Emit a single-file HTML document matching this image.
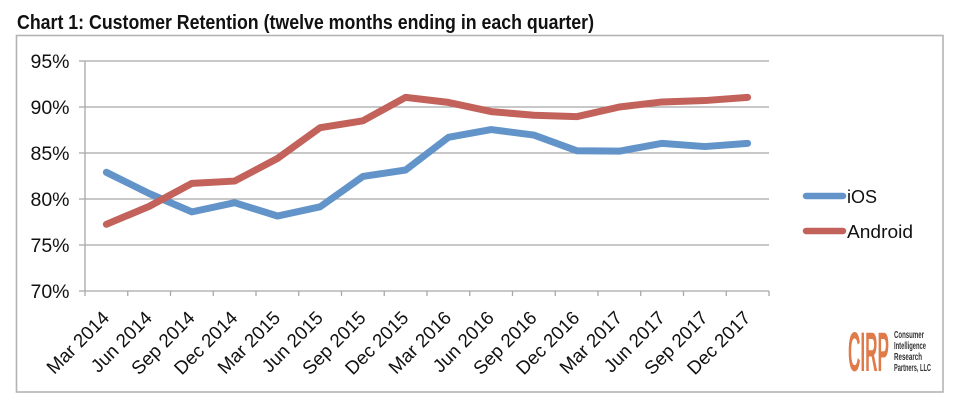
<!DOCTYPE html>
<html>
<head>
<meta charset="utf-8">
<style>
html,body{margin:0;padding:0;background:#fff;}
svg{display:block;}
text{font-family:"Liberation Sans",Arial,sans-serif;}
</style>
</head>
<body>
<svg width="960" height="407" viewBox="0 0 960 407" xmlns="http://www.w3.org/2000/svg">
<rect x="0" y="0" width="960" height="407" fill="#fff"/>
<!-- title -->
<text x="17" y="29" font-size="20" font-weight="bold" fill="#111" textLength="577" lengthAdjust="spacingAndGlyphs">Chart 1: Customer Retention (twelve months ending in each quarter)</text>
<!-- frame -->
<rect x="16.5" y="35.5" width="926.5" height="356.5" fill="none" stroke="#b4b4b4" stroke-width="1.6"/>
<!-- gridlines -->
<g stroke="#a8a8a8" stroke-width="1.3">
<line x1="79" y1="61" x2="769" y2="61"/>
<line x1="79" y1="107" x2="769" y2="107"/>
<line x1="79" y1="153" x2="769" y2="153"/>
<line x1="79" y1="199" x2="769" y2="199"/>
<line x1="79" y1="245" x2="769" y2="245"/>
<line x1="79" y1="291" x2="769" y2="291"/>
<line x1="85" y1="61" x2="85" y2="291"/>
<line x1="85" y1="291" x2="85" y2="296"/>
<line x1="127.75" y1="291" x2="127.75" y2="296"/>
<line x1="170.5" y1="291" x2="170.5" y2="296"/>
<line x1="213.25" y1="291" x2="213.25" y2="296"/>
<line x1="256" y1="291" x2="256" y2="296"/>
<line x1="298.75" y1="291" x2="298.75" y2="296"/>
<line x1="341.5" y1="291" x2="341.5" y2="296"/>
<line x1="384.25" y1="291" x2="384.25" y2="296"/>
<line x1="427" y1="291" x2="427" y2="296"/>
<line x1="469.75" y1="291" x2="469.75" y2="296"/>
<line x1="512.5" y1="291" x2="512.5" y2="296"/>
<line x1="555.25" y1="291" x2="555.25" y2="296"/>
<line x1="598" y1="291" x2="598" y2="296"/>
<line x1="640.75" y1="291" x2="640.75" y2="296"/>
<line x1="683.5" y1="291" x2="683.5" y2="296"/>
<line x1="726.25" y1="291" x2="726.25" y2="296"/>
<line x1="769" y1="291" x2="769" y2="296"/>
</g>
<!-- y labels -->
<g font-size="19.5" fill="#111" text-anchor="end">
<text x="69.5" y="68">95%</text>
<text x="69.5" y="114">90%</text>
<text x="69.5" y="160">85%</text>
<text x="69.5" y="206">80%</text>
<text x="69.5" y="252">75%</text>
<text x="69.5" y="298">70%</text>
</g>
<!-- x labels -->
<g font-size="18.8" fill="#111" text-anchor="end">
<text transform="translate(110.4,319) rotate(-45)">Mar 2014</text>
<text transform="translate(153.1,319) rotate(-45)">Jun 2014</text>
<text transform="translate(195.9,319) rotate(-45)">Sep 2014</text>
<text transform="translate(238.6,319) rotate(-45)">Dec 2014</text>
<text transform="translate(281.4,319) rotate(-45)">Mar 2015</text>
<text transform="translate(324.1,319) rotate(-45)">Jun 2015</text>
<text transform="translate(366.9,319) rotate(-45)">Sep 2015</text>
<text transform="translate(409.6,319) rotate(-45)">Dec 2015</text>
<text transform="translate(452.4,319) rotate(-45)">Mar 2016</text>
<text transform="translate(495.1,319) rotate(-45)">Jun 2016</text>
<text transform="translate(537.9,319) rotate(-45)">Sep 2016</text>
<text transform="translate(580.6,319) rotate(-45)">Dec 2016</text>
<text transform="translate(623.4,319) rotate(-45)">Mar 2017</text>
<text transform="translate(666.1,319) rotate(-45)">Jun 2017</text>
<text transform="translate(708.9,319) rotate(-45)">Sep 2017</text>
<text transform="translate(751.6,319) rotate(-45)">Dec 2017</text>
</g>
<!-- series -->
<polyline fill="none" stroke="#6394c9" stroke-width="7" stroke-linejoin="round" stroke-linecap="round"
points="106.375,172.32 149.125,193.48 191.875,211.88 234.625,202.68 277.375,216.02 320.125,206.82 362.875,176.46 405.625,170.02 448.375,137.36 491.125,129.54 533.875,135.06 576.625,150.7 619.375,151.16 662.125,143.34 704.875,146.56 747.625,143.34"/>
<polyline fill="none" stroke="#c2625b" stroke-width="7" stroke-linejoin="round" stroke-linecap="round"
points="106.375,224.3 149.125,206.36 191.875,183.36 234.625,181.06 277.375,158.52 320.125,127.7 362.875,120.8 405.625,97.34 448.375,102.4 491.125,111.6 533.875,115.28 576.625,116.66 619.375,107 662.125,101.94 704.875,100.56 747.625,97.34"/>
<!-- legend -->
<line x1="806" y1="196" x2="843" y2="196" stroke="#6394c9" stroke-width="6.5" stroke-linecap="round"/>
<text x="847" y="203" font-size="18" fill="#111">iOS</text>
<line x1="806" y1="231" x2="843" y2="231" stroke="#c2625b" stroke-width="6.5" stroke-linecap="round"/>
<text x="847" y="238" font-size="18" fill="#111" textLength="66" lengthAdjust="spacingAndGlyphs">Android</text>
<!-- logo -->
<text x="848" y="371" font-size="56" font-weight="bold" fill="#e07a48" textLength="41" lengthAdjust="spacingAndGlyphs">CIRP</text>
<g font-size="10" font-weight="bold" fill="#333">
<text x="894" y="338" textLength="30" lengthAdjust="spacingAndGlyphs">Consumer</text>
<text x="894" y="349" textLength="32" lengthAdjust="spacingAndGlyphs">Intelligence</text>
<text x="894" y="360" textLength="28" lengthAdjust="spacingAndGlyphs">Research</text>
<text x="894" y="371" textLength="37" lengthAdjust="spacingAndGlyphs">Partners, LLC</text>
</g>
</svg>
</body>
</html>
